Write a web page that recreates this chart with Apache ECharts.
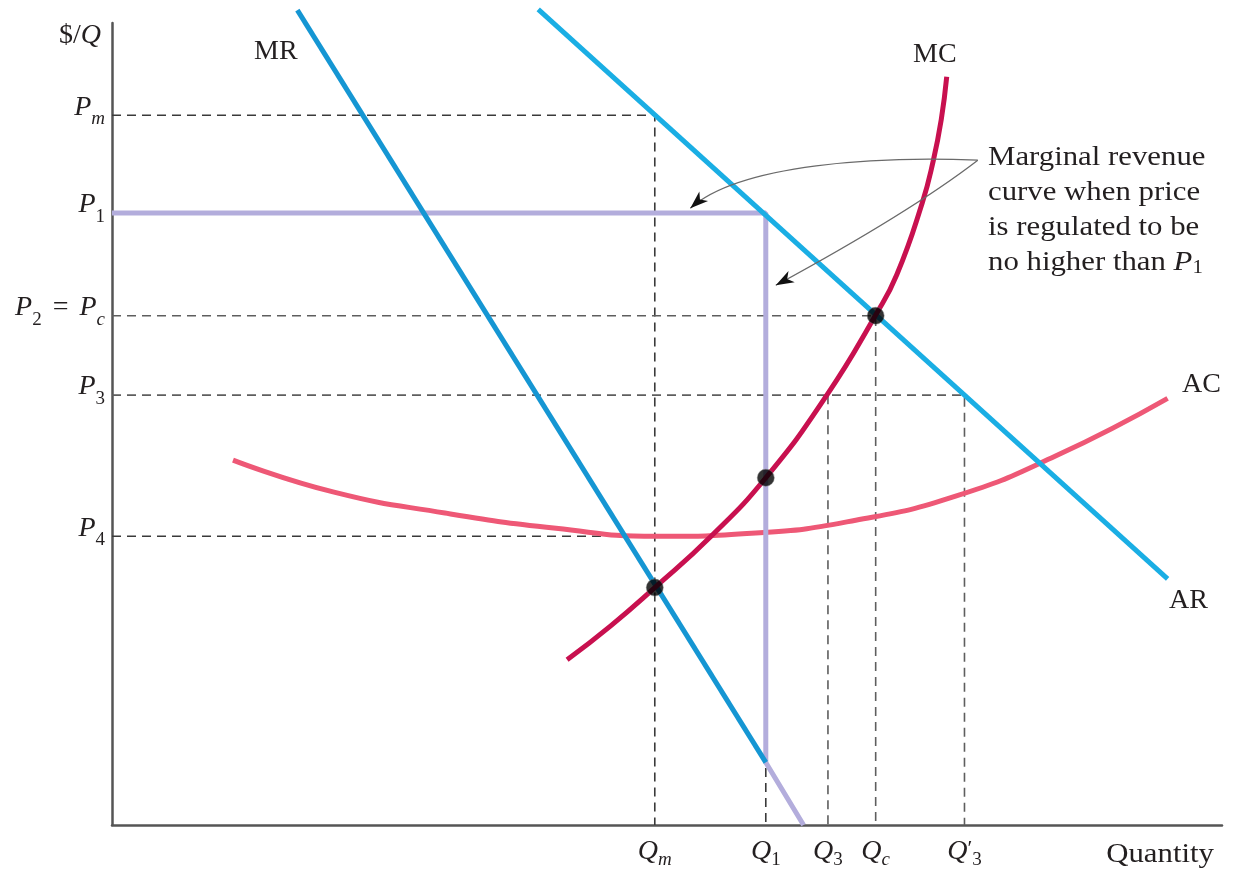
<!DOCTYPE html>
<html><head><meta charset="utf-8">
<script src="https://cdn.jsdelivr.net/npm/echarts@6/dist/echarts.min.js"></script>
<style>html,body{margin:0;padding:0;background:#fff}#c{width:1235px;height:870px}</style>
</head><body><div id="c"></div>
<script>
// ---------- data (abstract price / quantity units) ----------
const P_m = 88.5, P_1 = 76.3, P_c = 63.5, P_3 = 53.6, P_4 = 36.0;
const Q_m = 48.9, Q_1 = 58.9, Q_3 = 64.5, Q_c = 68.8, Q_3p = 76.8;

const priceTicks  = [P_4, P_3, P_c, P_1, P_m];
const priceLabels = ['{i|P}{s|4}', '{i|P}{s|3}', '{i|P}{s|2}{n| = }{i|P}{si|c}', '{i|P}{s|1}', '{i|P}{si|m}'];
const qtyTicks    = [Q_m, Q_1, Q_3, Q_c, Q_3p];
const qtyLabels   = ['{i|Q}{si|m}', '{i|Q}{s|1}', '{i|Q}{s|3}', '{i|Q}{si|c}', '{i|Q}{p|′}{s|3}'];

const arCurve = [[38.4, 101.7], [95.1, 30.7]];
const mrCurve = [[16.7, 101.6], [58.9, 7.8]];
const mcCurve = [[41.0, 20.6], [44.9, 24.8], [48.9, 29.6], [53.9, 35.9], [58.9, 43.3], [64.4, 53.6],
                 [68.8, 63.6], [70.7, 68.6], [73.0, 77.6], [74.0, 82.9], [74.7, 87.9], [75.2, 93.3]];
const acCurve = [[10.9, 45.5], [20.0, 41.5], [30.0, 38.9], [40.0, 37.0], [49.0, 36.0], [58.0, 36.4],
                 [67.0, 38.0], [76.0, 41.0], [85.0, 46.0], [95.1, 53.2]];
const regulatedMR = [[0, P_1], [Q_1, P_1], [Q_1, 7.8], [62.3, 0]];
const eqPoints = [[Q_m, 29.6], [Q_1, 43.3], [Q_c, P_c]];

// annotation arrows (data units): start, control points, end
const arrowUpper = [[78.0, 82.9], [69.2, 83.4], [56.6, 82.5], [52.1, 76.9]];
const arrowLower = [[78.0, 82.9], [71.9, 76.4], [59.8, 67.3]];

// ---------- styling ----------
const SERIF = '"Liberation Serif", "Times New Roman", serif';
const TXT = '#231f20';
const richY = {
  i:  { fontFamily: SERIF, fontStyle: 'italic', fontSize: 28, color: TXT, padding: [0, 0, 16, 0] },
  n:  { fontFamily: SERIF, fontSize: 28, color: TXT, padding: [0, 4, 16, 4] },
  s:  { fontFamily: SERIF, fontSize: 19, color: TXT, padding: [8, 0, 0, 0] },
  si: { fontFamily: SERIF, fontStyle: 'italic', fontSize: 19, color: TXT, padding: [8, 0, 0, 0] }
};
const richX = {
  i:  { fontFamily: SERIF, fontStyle: 'italic', fontSize: 28, color: TXT, padding: [0, 0, 10, 0] },
  s:  { fontFamily: SERIF, fontSize: 19, color: TXT, padding: [6, 0, 0, 0] },
  si: { fontFamily: SERIF, fontStyle: 'italic', fontSize: 19, color: TXT, padding: [6, 0, 0, 0] },
  p:  { fontFamily: SERIF, fontSize: 22, color: TXT, padding: [0, 0, 16, 0] }
};

function dashed(data, color) {
  return { type: 'line', data, symbol: 'none', z: 1, silent: true, clip: false,
    lineStyle: { color, width: 1.6, type: [9, 6] } };
}
function curve(data, color, z, smooth) {
  return { type: 'line', data, symbol: 'none', z, clip: false, smooth: smooth ? 0.5 : false,
    lineStyle: { color, width: 5, cap: 'butt' } };
}

const option = {
  animation: false,
  grid: { left: 112, right: 13, top: 23, bottom: 45, containLabel: false, outerBoundsMode: 'none' },
  xAxis: {
    type: 'value', min: 0, max: 100,
    axisLine: { lineStyle: { color: '#555', width: 2.5 } },
    axisTick: { show: false }, splitLine: { show: false },
    axisLabel: { customValues: qtyTicks, margin: 13, rich: richX, hideOverlap: false,
      formatter: v => qtyLabels[qtyTicks.indexOf(v)] || '' }
  },
  yAxis: {
    type: 'value', min: 0, max: 100,
    axisLine: { lineStyle: { color: '#555', width: 2.5 } },
    axisTick: { show: false }, splitLine: { show: false },
    axisLabel: { customValues: priceTicks, margin: 7, rich: richY, hideOverlap: false,
      formatter: v => priceLabels[priceTicks.indexOf(v)] || '' }
  },
  series: [
    dashed([[0, P_m], [Q_m, P_m], [Q_m, 0]], '#3a3a3a'),
    dashed([[0, P_4], [Q_m, P_4]], '#3a3a3a'),
    dashed([[Q_1, P_1], [Q_1, 0]], '#3a3a3a'),
    dashed([[0, P_c], [Q_c, P_c], [Q_c, 0]], '#5e5e5e'),
    dashed([[0, P_3], [Q_3p, P_3], [Q_3p, 0]], '#5e5e5e'),
    dashed([[Q_3, P_3], [Q_3, 0]], '#5e5e5e'),
    curve(acCurve, '#ee5876', 2, true),
    curve(regulatedMR, '#b3addc', 3, false),
    curve(mrCurve, '#1596d3', 4, false),
    curve(arCurve, '#1aaee4', 4, false),
    curve(mcCurve, '#c8104f', 5, true),
    { type: 'scatter', data: eqPoints, symbolSize: 17, z: 10,
      itemStyle: { color: '#000', borderColor: '#777', borderWidth: 0.6 } }
  ]
};

const chart = echarts.init(document.getElementById('c'));
chart.setOption(option);

const px = p => chart.convertToPixel({ gridIndex: 0 }, p);

function arrowHead(tip, from) {
  const dx = tip[0] - from[0], dy = tip[1] - from[1];
  const L = Math.hypot(dx, dy), ux = dx / L, uy = dy / L;
  const len = 18, w = 6.5;
  const bx = tip[0] - ux * len, by = tip[1] - uy * len;
  return { type: 'polygon', z: 20, silent: true,
    shape: { points: [tip, [bx - uy * w, by + ux * w], [tip[0] - ux * len * 0.72, tip[1] - uy * len * 0.72], [bx + uy * w, by - ux * w]] },
    style: { fill: '#111' } };
}

const u = arrowUpper.map(px), l = arrowLower.map(px);
function txt(text, x, y, align, extra, sx) {
  return Object.assign({ type: 'text', x, y, z: 30, silent: true, scaleX: sx || 1,
    style: Object.assign({ text, font: '28px ' + SERIF, fill: TXT, align, verticalAlign: 'middle' }, extra || {}) });
}
const graphics = [
  { type: 'bezierCurve', z: 19, silent: true,
    shape: { x1: u[0][0], y1: u[0][1], cpx1: u[1][0], cpy1: u[1][1], cpx2: u[2][0], cpy2: u[2][1], x2: u[3][0], y2: u[3][1] },
    style: { stroke: '#6a6a6a', lineWidth: 1.3, fill: null } },
  arrowHead(u[3], u[2]),
  { type: 'bezierCurve', z: 19, silent: true,
    shape: { x1: l[0][0], y1: l[0][1], cpx1: l[1][0], cpy1: l[1][1], x2: l[2][0], y2: l[2][1] },
    style: { stroke: '#6a6a6a', lineWidth: 1.3, fill: null } },
  arrowHead(l[2], l[1]),
  txt('{n|$/}{i|Q}', 101, 36, 'right', { rich: { n: { fontFamily: SERIF, fontSize: 28, fill: TXT }, i: { fontFamily: SERIF, fontStyle: 'italic', fontSize: 28, fill: TXT } } }),
  txt('MR', 254, 52, 'left'),
  txt('MC', 913, 55, 'left'),
  txt('AC', 1182, 385, 'left'),
  txt('AR', 1169, 601, 'left'),
  txt('Quantity', 1214, 855, 'right', null, 1.1),
  { type: 'text', x: 988, y: 140, z: 30, silent: true, scaleX: 1.1,
    style: { text: 'Marginal revenue\ncurve when price\nis regulated to be\nno higher than {i|P}{s|1}',
      font: '28px ' + SERIF, fill: TXT, align: 'left', verticalAlign: 'top', lineHeight: 35,
      rich: { i: { fontFamily: SERIF, fontStyle: 'italic', fontSize: 28, fill: TXT, lineHeight: 35 },
              s: { fontFamily: SERIF, fontSize: 19, fill: TXT, padding: [12, 0, 0, 0], lineHeight: 23 } } } }
];
chart.setOption({ graphic: graphics });
</script>
</body></html>
